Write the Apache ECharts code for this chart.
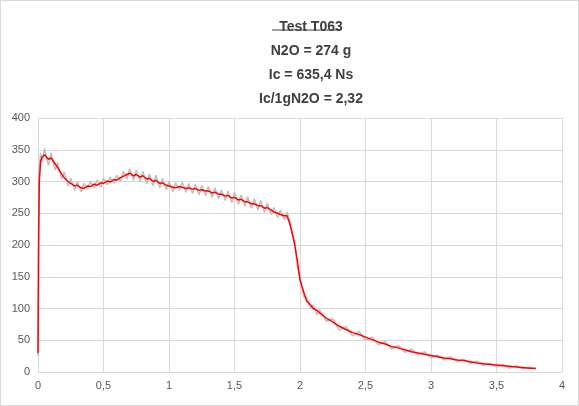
<!DOCTYPE html>
<html><head><meta charset="utf-8">
<script src="https://cdn.jsdelivr.net/npm/echarts@6/dist/echarts.min.js"></script>
<style>html,body{margin:0;padding:0;background:#fff}#c{width:579px;height:406px;box-sizing:border-box;border:1px solid #d9d9d9}</style>
</head><body><div id="c"></div>
<script>
const titleLines = ["Test T063", "N2O = 274 g", "Ic = 635,4 Ns", "Ic/1gN2O = 2,32"];
const xTicks = [0, 0.5, 1, 1.5, 2, 2.5, 3, 3.5, 4];
const yTicks = [0, 50, 100, 150, 200, 250, 300, 350, 400];
const redT = [0,0.005,0.01,0.02,0.03,0.05,0.08,0.1,0.13,0.15,0.18,0.2,0.23,0.25,0.28,0.3,0.33,0.35,0.38,0.4,0.43,0.45,0.48,0.5,0.53,0.55,0.58,0.6,0.63,0.65,0.68,0.7,0.73,0.75,0.78,0.8,0.83,0.85,0.88,0.9,0.93,0.95,0.98,1.0,1.03,1.05,1.08,1.1,1.13,1.15,1.18,1.2,1.23,1.25,1.28,1.3,1.33,1.35,1.38,1.4,1.43,1.45,1.48,1.5,1.53,1.55,1.58,1.6,1.63,1.65,1.68,1.7,1.73,1.75,1.78,1.8,1.83,1.85,1.88,1.9,1.92,1.94,1.96,1.98,2.0,2.03,2.05,2.08,2.1,2.13,2.15,2.2,2.25,2.3,2.35,2.4,2.45,2.5,2.55,2.6,2.65,2.7,2.75,2.8,2.85,2.9,2.95,3.0,3.05,3.1,3.15,3.2,3.25,3.3,3.35,3.4,3.45,3.5,3.55,3.6,3.65,3.7,3.75,3.8];
const redV = [30,220,300,332,338,342,335,337,328,322,312,306,300,297,293,294,290,289,293,292,296,294,298,297,301,299,303,302,306,308,311,313,309,311,307,309,304,305,300,302,297,298,294,293,291,290,292,291,289,290,288,289,286,287,285,285,282,283,280,280,277,278,274,275,271,272,268,268,265,265,262,262,258,259,255,252,250,248,246,246,235,220,200,175,145,125,112,106,100,97,93,85,79,72,67,62,59,55,51,47,44,40,38,35,32,30,28,26,24,22,21,19,18,16,14,13,12,11,10,9,8,7,6,6];
const greyT = redT;
const greyV = [25,200,320,345,330,352,325,345,318,330,304,315,293,305,286,300,284,297,288,300,290,302,291,305,295,307,297,310,300,316,304,320,302,318,300,316,296,312,293,310,290,305,287,300,284,298,286,299,283,297,281,296,279,294,278,292,275,290,273,287,270,285,267,283,264,279,261,276,258,273,255,270,251,266,248,259,243,255,240,252,240,215,205,165,150,118,118,100,106,90,98,80,84,66,72,57,64,50,55,43,48,36,42,31,36,27,32,22,27,19,24,16,20,13,17,10,14,8,12,6,10,5,8,4];
const fam = "'Liberation Sans', Calibri, sans-serif";
const chart = echarts.init(document.getElementById('c'));
const fmt = v => String(v).replace('.', ',');
chart.setOption({
  animation:false,
  title:{text:titleLines.join('\n'), left:305, textAlign:'center', top:9,
    textStyle:{fontFamily:fam, fontSize:14, fontWeight:'bold', color:'#404040', lineHeight:24}},
  graphic:[{type:'line', shape:{x1:271,y1:29,x2:339,y2:29}, style:{stroke:'#404040',lineWidth:1}}],
  grid:{left:37, right:16, top:117, bottom:33},
  xAxis:{type:'value', min:xTicks[0], max:xTicks[xTicks.length-1], interval:0.5,
    axisLine:{lineStyle:{color:'#d9d9d9'}}, axisTick:{show:false},
    splitLine:{show:true, lineStyle:{color:'#d9d9d9'}},
    axisLabel:{formatter:fmt, color:'#595959', fontSize:11, fontFamily:fam}},
  yAxis:{type:'value', min:yTicks[0], max:yTicks[yTicks.length-1], interval:50,
    axisLine:{show:false}, axisTick:{show:false},
    splitLine:{lineStyle:{color:'#d9d9d9'}},
    axisLabel:{color:'#595959', fontSize:11, fontFamily:fam}},
  series:[
    {type:'line', data:greyT.map((t,i)=>[t,greyV[i]]), showSymbol:false, lineStyle:{color:'#bfbfbf', width:1.5}},
    {type:'line', data:redT.map((t,i)=>[t,redV[i]]), showSymbol:false, lineStyle:{color:'#ff0000', width:1.5}}
  ]
});
</script></body></html>
